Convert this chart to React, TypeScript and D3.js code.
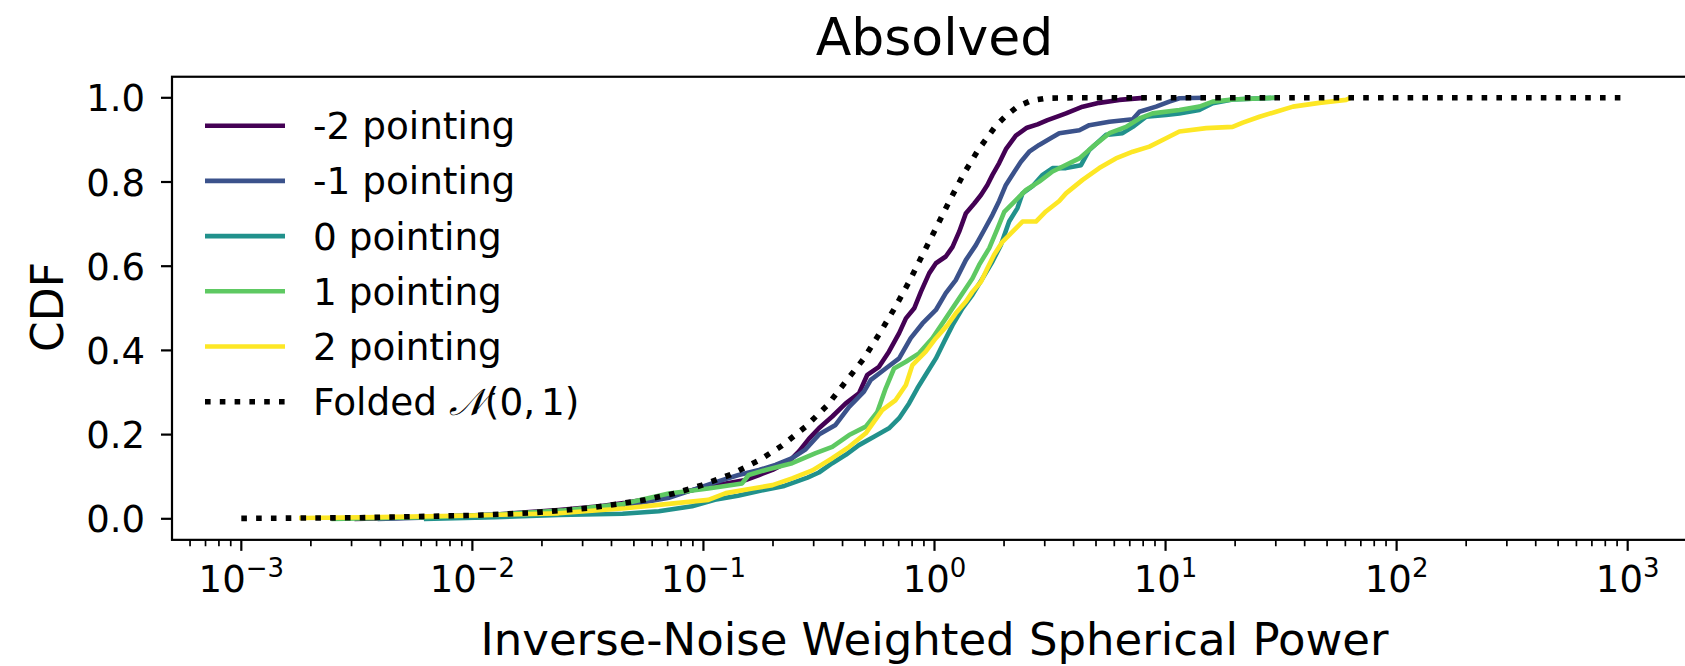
import React from "react";
import * as d3 from "d3";

// ---------- data ----------
const seriesNames = ["-2 pointing", "-1 pointing", "0 pointing", "1 pointing", "2 pointing"];
const seriesColors = ["#440154", "#3b528b", "#21918c", "#5ec962", "#fde725"];

// [power, cdf]
const pointingM2: [number, number][] = [
  [0.00316, 0.0], [0.00631, 0.004], [0.0126, 0.01], [0.0236, 0.021], [0.0355, 0.03], [0.0459, 0.038],
  [0.0641, 0.051], [0.0893, 0.068], [0.102, 0.076], [0.125, 0.084], [0.152, 0.092], [0.174, 0.104],
  [0.199, 0.116], [0.234, 0.136], [0.259, 0.16], [0.286, 0.19], [0.316, 0.215], [0.361, 0.243],
  [0.413, 0.274], [0.471, 0.298], [0.512, 0.342], [0.575, 0.361], [0.635, 0.397], [0.703, 0.441],
  [0.752, 0.476], [0.817, 0.5], [0.873, 0.539], [0.948, 0.583], [1.014, 0.607], [1.119, 0.623],
  [1.197, 0.646], [1.279, 0.682], [1.368, 0.726], [1.486, 0.749], [1.589, 0.769], [1.694, 0.793],
  [1.782, 0.817], [1.905, 0.845], [2.037, 0.878], [2.249, 0.91], [2.512, 0.929], [2.793, 0.937],
  [3.083, 0.947], [3.467, 0.957], [3.707, 0.963], [4.375, 0.979], [5.164, 0.988], [6.31, 0.995],
  [8.091, 1.0],
];
const pointingM1: [number, number][] = [
  [0.00398, 0.0], [0.01, 0.006], [0.0251, 0.018], [0.0501, 0.035], [0.0708, 0.05], [0.0893, 0.068],
  [0.113, 0.087], [0.142, 0.104], [0.174, 0.116], [0.205, 0.128], [0.242, 0.144], [0.277, 0.165],
  [0.316, 0.2], [0.373, 0.223], [0.427, 0.266], [0.495, 0.302], [0.53, 0.33], [0.615, 0.357],
  [0.703, 0.381], [0.789, 0.429], [0.887, 0.464], [1.014, 0.496], [1.119, 0.536], [1.236, 0.567],
  [1.368, 0.615], [1.51, 0.65], [1.641, 0.686], [1.782, 0.722], [1.905, 0.755], [2.037, 0.793],
  [2.213, 0.824], [2.366, 0.848], [2.57, 0.872], [2.838, 0.888], [3.141, 0.902], [3.467, 0.916],
  [4.236, 0.923], [4.677, 0.935], [5.715, 0.943], [7.211, 0.949], [7.709, 0.967], [9.099, 0.979],
  [10.38, 0.991], [11.48, 0.999], [14.45, 1.0],
];
const pointing0: [number, number][] = [
  [0.00631, 0.0], [0.0126, 0.004], [0.0236, 0.009], [0.0447, 0.012], [0.0641, 0.018], [0.0893, 0.03],
  [0.112, 0.045], [0.141, 0.055], [0.174, 0.066], [0.224, 0.078], [0.282, 0.098], [0.316, 0.11],
  [0.361, 0.132], [0.413, 0.152], [0.471, 0.175], [0.547, 0.195], [0.635, 0.215], [0.703, 0.239],
  [0.776, 0.274], [0.843, 0.31], [0.916, 0.342], [1.014, 0.381], [1.102, 0.421], [1.197, 0.46],
  [1.321, 0.5], [1.459, 0.532], [1.614, 0.571], [1.782, 0.611], [1.936, 0.65], [2.104, 0.706],
  [2.286, 0.738], [2.404, 0.773], [2.655, 0.79], [2.938, 0.817], [3.243, 0.833], [3.707, 0.833],
  [4.305, 0.84], [4.677, 0.876], [5.521, 0.912], [6.516, 0.916], [7.211, 0.931], [8.241, 0.955],
  [10.05, 0.959], [11.48, 0.963], [14.0, 0.971], [16.0, 0.987], [19.5, 0.996], [29.6, 1.0],
];
const pointing1: [number, number][] = [
  [0.00251, 0.0], [0.00631, 0.004], [0.0126, 0.01], [0.0251, 0.02], [0.0447, 0.035], [0.0708, 0.06],
  [0.105, 0.072], [0.147, 0.084], [0.157, 0.104], [0.186, 0.116], [0.242, 0.132], [0.306, 0.156],
  [0.361, 0.171], [0.427, 0.199], [0.504, 0.219], [0.566, 0.254], [0.615, 0.31], [0.668, 0.357],
  [0.752, 0.373], [0.857, 0.393], [0.979, 0.429], [1.119, 0.476], [1.279, 0.524], [1.459, 0.571],
  [1.56, 0.603], [1.726, 0.643], [1.875, 0.69], [2.004, 0.729], [2.213, 0.753], [2.489, 0.781],
  [2.838, 0.801], [3.243, 0.825], [4.236, 0.856], [4.842, 0.884], [5.715, 0.916], [6.745, 0.931],
  [7.709, 0.951], [8.79, 0.963], [11.48, 0.971], [14.0, 0.979], [16.0, 0.991], [19.5, 0.996],
  [29.6, 1.0],
];
const pointing2: [number, number][] = [
  [0.00182, 0.002], [0.00398, 0.004], [0.01, 0.008], [0.0236, 0.013], [0.0459, 0.025], [0.0641, 0.033],
  [0.105, 0.045], [0.125, 0.061], [0.163, 0.072], [0.199, 0.08], [0.242, 0.096], [0.296, 0.115],
  [0.361, 0.144], [0.427, 0.171], [0.504, 0.203], [0.594, 0.258], [0.679, 0.282], [0.752, 0.318],
  [0.802, 0.365], [0.916, 0.397], [1.014, 0.429], [1.138, 0.46], [1.236, 0.488], [1.368, 0.516],
  [1.459, 0.539], [1.589, 0.563], [1.694, 0.595], [1.811, 0.627], [1.968, 0.658], [2.178, 0.682],
  [2.404, 0.706], [2.748, 0.706], [3.034, 0.73], [3.467, 0.755], [3.707, 0.773], [4.375, 0.805],
  [5.164, 0.833], [6.095, 0.856], [7.211, 0.872], [8.511, 0.884], [10.05, 0.904], [11.48, 0.92],
  [15.0, 0.928], [19.5, 0.931], [21.6, 0.941], [25.5, 0.955], [30.1, 0.967], [35.6, 0.979],
  [46.3, 0.988], [60.4, 0.995], [63.1, 1.0],
];
const foldedNormal: [number, number][] = [
  [0.001, 0.001], [0.00316, 0.0025], [0.01, 0.008], [0.0178, 0.014], [0.0314, 0.025], [0.0424, 0.035],
  [0.0561, 0.045], [0.0745, 0.06], [0.0986, 0.08], [0.131, 0.105], [0.173, 0.138], [0.219, 0.174],
  [0.277, 0.219], [0.344, 0.27], [0.413, 0.326], [0.495, 0.381], [0.581, 0.442], [0.675, 0.502],
  [0.776, 0.563], [0.887, 0.627], [1.014, 0.69], [1.156, 0.753], [1.33, 0.817], [1.545, 0.876],
  [1.845, 0.934], [2.037, 0.957], [2.286, 0.979], [2.612, 0.993], [3.034, 0.999], [3.981, 1.0],
  [10, 1.0], [100, 1.0], [1000, 1.0],
];
const seriesData = [pointingM2, pointingM1, pointing0, pointing1, pointing2];

const yTicks = [0.0, 0.2, 0.4, 0.6, 0.8, 1.0];
const xMajorExponents = [-3, -2, -1, 0, 1, 2, 3];
const titleText = "Absolved";
const xLabelText = "Inverse-Noise Weighted Spherical Power";
const yLabelText = "CDF";

// ---------- layout ----------
const W = 1685;
const H = 666;
const AX = { left: 172, right: 1697, top: 76.75, bottom: 539.85 };
const FONT = "'DejaVu Sans', 'Noto Sans', sans-serif";
const TICK_FS = 37;
const LEG_FS = 37.4;

export default function App() {
  const x = d3.scaleLog().domain([Math.pow(10, -3.3), Math.pow(10, 3.3)]).range([AX.left, AX.right]);
  const y = d3.scaleLinear().domain([-0.05, 1.05]).range([AX.bottom, AX.top]);
  const line = d3
    .line<[number, number]>()
    .x((d) => x(d[0]))
    .y((d) => y(d[1]));

  const minorTicks: number[] = [];
  for (let e = -4; e <= 3; e++) {
    for (let k = 2; k <= 9; k++) {
      const v = k * Math.pow(10, e);
      const px = x(v);
      if (px >= AX.left && px <= AX.right) minorTicks.push(v);
    }
  }

  const legendRows = [
    ...seriesNames.map((n, i) => ({ name: n, color: seriesColors[i], dotted: false })),
    { name: "Folded", color: "#000", dotted: true },
  ];

  return (
    <svg
      width={W}
      height={H}
      style={{ position: "absolute", left: 0, top: 0, background: "#fff" }}
      fontFamily={FONT}
    >
      <defs>
        <clipPath id="plotclip">
          <rect x={AX.left} y={AX.top} width={AX.right - AX.left} height={AX.bottom - AX.top} />
        </clipPath>
      </defs>
      <rect x={0} y={0} width={W} height={H} fill="#fff" />

      {/* title */}
      <text x={(AX.left + AX.right) / 2} y={55} textAnchor="middle" fontSize={52} fill="#000">
        {titleText}
      </text>

      {/* series */}
      <g clipPath="url(#plotclip)">
        {seriesData.map((s, i) => (
          <path
            key={i}
            d={line(s) || ""}
            fill="none"
            stroke={seriesColors[i]}
            strokeWidth={4.6}
            strokeLinejoin="round"
            strokeLinecap="square"
          />
        ))}
        <path
          d={line(foldedNormal) || ""}
          fill="none"
          stroke="#000"
          strokeWidth={5.6}
          strokeDasharray="5.6 9.2"
        />
      </g>

      {/* frame */}
      <rect
        x={AX.left}
        y={AX.top}
        width={AX.right - AX.left}
        height={AX.bottom - AX.top}
        fill="none"
        stroke="#000"
        strokeWidth={2.2}
      />

      {/* y ticks */}
      {yTicks.map((t) => (
        <g key={t}>
          <line x1={AX.left - 11} x2={AX.left} y1={y(t)} y2={y(t)} stroke="#000" strokeWidth={2.2} />
          <text x={AX.left - 27} y={y(t) + 13.5} textAnchor="end" fontSize={TICK_FS} fill="#000">
            {t.toFixed(1)}
          </text>
        </g>
      ))}

      {/* x ticks */}
      {minorTicks.map((v, i) => (
        <line key={"m" + i} x1={x(v)} x2={x(v)} y1={AX.bottom} y2={AX.bottom + 6.4} stroke="#000" strokeWidth={1.7} />
      ))}
      {xMajorExponents.map((e) => {
        const px = x(Math.pow(10, e));
        return (
          <g key={e}>
            <line x1={px} x2={px} y1={AX.bottom} y2={AX.bottom + 11} stroke="#000" strokeWidth={2.2} />
            <text x={px} y={592} textAnchor="middle" fontSize={TICK_FS} fill="#000">
              <tspan>10</tspan>
              <tspan fontSize={26} dy={-15}>
                {e < 0 ? "\u2212" + Math.abs(e) : String(e)}
              </tspan>
            </text>
          </g>
        );
      })}

      {/* axis labels */}
      <text x={(AX.left + AX.right) / 2} y={655} textAnchor="middle" fontSize={45} fill="#000">
        {xLabelText}
      </text>
      <text
        transform={`translate(63, ${307}) rotate(-90)`}
        textAnchor="middle"
        fontSize={44}
        fill="#000"
      >
        {yLabelText}
      </text>

      {/* legend */}
      {legendRows.map((r, i) => {
        const cy = 125.7 + i * 55.2;
        return (
          <g key={i}>
            <line
              x1={205}
              x2={285}
              y1={cy}
              y2={cy}
              stroke={r.color}
              strokeWidth={r.dotted ? 5.6 : 4.6}
              strokeDasharray={r.dotted ? "5.6 9.2" : undefined}
            />
            <text x={313} y={cy + 13.5} fontSize={LEG_FS} fill="#000">
              {r.name}
              {r.dotted ? (
                <>
                  {" "}
                  <tspan fontFamily="'DejaVu Serif', serif" fontStyle="italic">
                    {"\u{1D4A9}"}
                  </tspan>
                  <tspan>(0,</tspan>
                  <tspan dx={6}>1)</tspan>
                </>
              ) : null}
            </text>
          </g>
        );
      })}
    </svg>
  );
}
